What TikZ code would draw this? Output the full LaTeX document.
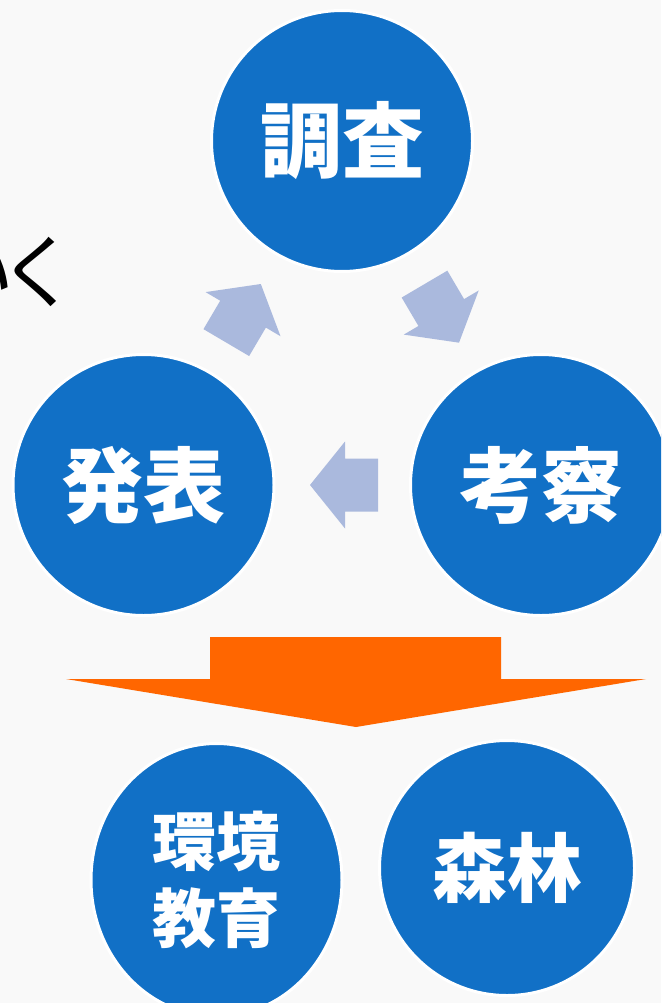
\documentclass[tikz,border=0pt]{standalone}
\usepackage{fontspec}
\newfontfamily\jp{Noto Sans CJK JP}
\usetikzlibrary{shapes.geometric}
\definecolor{circblue}{HTML}{1170C6}
\definecolor{cyclecol}{HTML}{AAB9DD}
\definecolor{orangecol}{HTML}{FF6600}
\definecolor{bgcol}{HTML}{F9F9F9}
\tikzset{
  circ/.style={circle, fill=circblue, draw=white, line width=3pt, inner sep=0pt,
    text=white, font=\jp\bfseries\fontsize{82}{90}\selectfont},
  cycarrow/.pic={\fill[cyclecol] (0,-26.5) -- (33,-26.5) -- (33,-43.5) -- (68,0)
    -- (33,43.5) -- (33,26.5) -- (0,26.5) -- cycle;}
}
\begin{document}
\begin{tikzpicture}[x=1pt,y=-1pt]
\fill[bgcol] (0,0) rectangle (661,1003);
\useasboundingbox (0,0) rectangle (661,1003);
\begin{scope}
\clip (0,0) rectangle (661,1003);
% partial heading text
\node[anchor=east, inner sep=0pt, font=\jp\fontsize{80}{90}\selectfont] (iku) at (79,272) {い\kern-16ptく};
% cycle arrows
\pic[rotate=59.5] at (226.3,342.6) {cycarrow};
\pic[rotate=-59.5] at (424.5,284.1) {cycarrow};
\pic[rotate=180] at (378,485) {cycarrow};
% cycle circles
\node[circ, minimum size=261pt] (chosa) at (342,141) {調査};
\node[circ, minimum size=261pt] (happyo) at (143.5,485) {発表};
\node[circ, minimum size=261pt] (kosatsu) at (541,485) {考察};
% orange arrow
\fill[orangecol] (210,637) -- (501,637) -- (501,679) -- (646,679) -- (356,727)
  -- (66,679) -- (210,679) -- cycle;
% result circles
\node[circ, ellipse, minimum width=251pt, minimum height=273pt, align=center,
  font=\jp\bfseries\fontsize{64}{77}\selectfont] (kankyo) at (216.5,880) {環境\\教育};
\node[circ, minimum size=255pt, font=\jp\bfseries\fontsize{75}{85}\selectfont] (shinrin) at (507,868) {森林};
\end{scope}
\end{tikzpicture}
\end{document}
